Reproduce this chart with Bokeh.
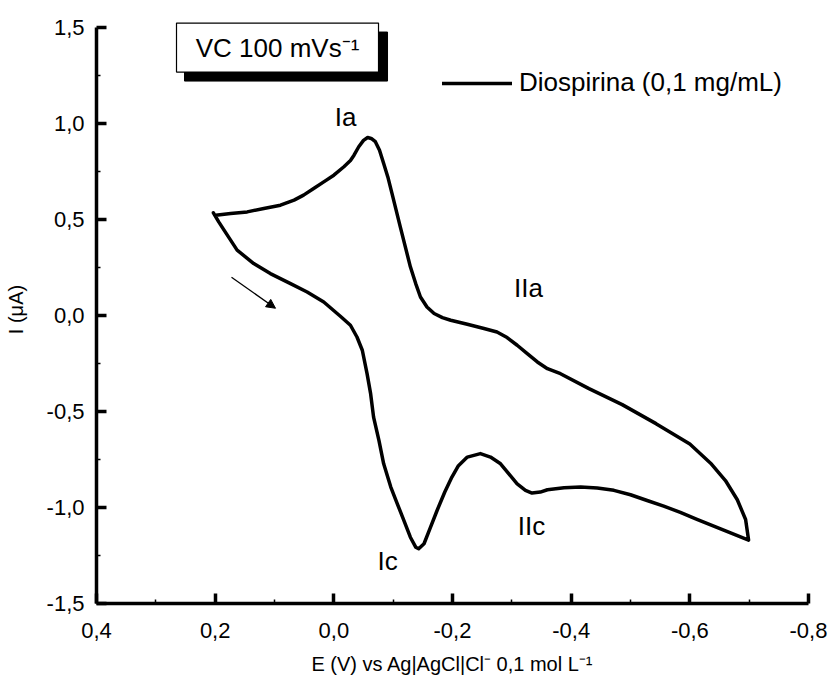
from bokeh.plotting import figure
from bokeh.models import (Range1d, FixedTicker, CustomJSTickFormatter, Label, Legend,
                          LegendItem, Arrow, NormalHead)
from bokeh.embed import file_html
from bokeh.resources import INLINE

# ---------------- data ----------------
# cathodic (forward) scan, 0.2 V -> -0.7 V
E_fwd = [0.203, 0.194, 0.185, 0.174, 0.163, 0.149, 0.135, 0.107, 0.073, 0.045,
         0.017, -0.011, -0.028, -0.039, -0.048, -0.056, -0.062, -0.067, -0.076, -0.084,
         -0.096, -0.107, -0.118, -0.129, -0.138, -0.143, -0.152, -0.163, -0.174, -0.187,
         -0.199, -0.210, -0.225, -0.247, -0.264, -0.281, -0.295, -0.309, -0.323, -0.334,
         -0.348, -0.360, -0.388, -0.416, -0.444, -0.472, -0.500, -0.528, -0.556, -0.584,
         -0.612, -0.655, -0.699]
I_fwd = [0.533, 0.486, 0.443, 0.391, 0.339, 0.304, 0.269, 0.217, 0.165, 0.121,
         0.069, -0.005, -0.052, -0.113, -0.182, -0.304, -0.408, -0.530, -0.651, -0.773,
         -0.894, -0.981, -1.068, -1.155, -1.207, -1.215, -1.189, -1.103, -1.016, -0.920,
         -0.842, -0.783, -0.738, -0.720, -0.738, -0.773, -0.825, -0.877, -0.911, -0.925,
         -0.920, -0.908, -0.898, -0.894, -0.899, -0.911, -0.934, -0.964, -0.993, -1.026,
         -1.062, -1.116, -1.170]
# anodic (return) scan, -0.7 V -> 0.2 V
E_rev = [-0.694, -0.680, -0.660, -0.635, -0.600, -0.543, -0.486, -0.430, -0.382, -0.360,
         -0.343, -0.326, -0.309, -0.292, -0.275, -0.253, -0.225, -0.197, -0.183, -0.169,
         -0.157, -0.146, -0.138, -0.129, -0.112, -0.098, -0.091, -0.084, -0.077, -0.070,
         -0.063, -0.057, -0.050, -0.042, -0.034, -0.028, -0.017, 0.000, 0.017, 0.034,
         0.051, 0.067, 0.090, 0.118, 0.146, 0.174, 0.199]
I_rev = [-1.063, -0.960, -0.860, -0.770, -0.670, -0.564, -0.465, -0.382, -0.304, -0.278,
         -0.243, -0.200, -0.156, -0.116, -0.087, -0.069, -0.047, -0.026, -0.012, 0.009,
         0.043, 0.095, 0.165, 0.252, 0.460, 0.634, 0.720, 0.790, 0.859, 0.903,
         0.920, 0.925, 0.910, 0.877, 0.833, 0.805, 0.773, 0.729, 0.694, 0.660,
         0.625, 0.599, 0.573, 0.556, 0.538, 0.530, 0.521]

x_ticks = [0.4, 0.2, 0.0, -0.2, -0.4, -0.6, -0.8]
x_minor = [0.3, 0.1, -0.1, -0.3, -0.5, -0.7]
y_ticks = [-1.5, -1.0, -0.5, 0.0, 0.5, 1.0, 1.5]
y_minor = [-1.25, -0.75, -0.25, 0.25, 0.75, 1.25]

series_label = "Diospirina (0,1 mg/mL)"
peak_labels = ["Ia", "IIa", "Ic", "IIc"]
box_text = "VC 100 mVs\u207b\u00b9"
x_title = "E (V) vs Ag|AgCl|Cl\u207b 0,1 mol L\u207b\u00b9"
y_title = "I (\u03bcA)"

FONT = "Liberation Sans"

# ---------------- layout helpers (pixel -> data) ----------------
X0_PX, X_SCALE = 96.0, 593.3   # x=0.4 at 96 px, px per V
Y0_PX, Y_SCALE = 315.0, 192.0  # y=0 at 315 px, px per uA


def px2x(px):
    return 0.4 - (px - X0_PX) / X_SCALE


def py2y(py):
    return (Y0_PX - py) / Y_SCALE


p = figure(width=828, height=688, output_backend="svg", toolbar_location=None,
           x_range=Range1d(0.4, -0.8), y_range=Range1d(-1.5, 1.56),
           min_border_left=96, min_border_right=20, min_border_top=15,
           min_border_bottom=85)
p.outline_line_color = None
p.xgrid.visible = False
p.ygrid.visible = False
p.background_fill_color = "white"
p.border_fill_color = "white"

fmt = CustomJSTickFormatter(code="return tick.toFixed(1).replace('.', ',');")

for ax, ticks, minor, title in ((p.xaxis[0], x_ticks, x_minor, x_title),
                                (p.yaxis[0], y_ticks, y_minor, y_title)):
    ax.ticker = FixedTicker(ticks=ticks, minor_ticks=minor)
    ax.formatter = fmt
    ax.axis_line_width = 3.5
    ax.axis_line_color = "black"
    ax.major_tick_line_width = 3.5
    ax.major_tick_in = 10
    ax.major_tick_out = 0
    ax.minor_tick_line_width = 1.5
    ax.minor_tick_in = 4
    ax.minor_tick_out = 0
    ax.major_label_text_font = FONT
    ax.major_label_text_font_size = "22px"
    ax.major_label_text_color = "black"
    ax.axis_label = title
    ax.axis_label_text_font = FONT
    ax.axis_label_text_font_size = "20px"
    ax.axis_label_text_font_style = "normal"
    ax.axis_label_text_color = "black"

p.yaxis[0].bounds = (-1.5, 1.5)
p.xaxis[0].major_label_standoff = 19
p.xaxis[0].axis_label_standoff = 12
p.yaxis[0].major_label_standoff = 12
p.yaxis[0].axis_label_standoff = 17

# ---------------- curve ----------------
E_all = E_fwd + E_rev
I_all = I_fwd + I_rev
r = p.line(E_all, I_all, line_color="black", line_width=3.5, line_join="round",
           line_cap="round")

legend = Legend(items=[LegendItem(label=series_label, renderers=[r])],
                location=(346, 505), border_line_color=None,
                background_fill_alpha=0, padding=0, margin=0, spacing=0,
                glyph_width=70, glyph_height=24, label_height=24,
                label_standoff=7, label_text_font=FONT,
                label_text_font_size="26px", label_text_color="black")
p.add_layout(legend)

# ---------------- boxed scan-rate label with shadow ----------------
bx0, bx1, by0, by1 = 176, 378, 23, 72
p.quad(left=[px2x(bx0 + 8)], right=[px2x(bx1 + 9)], top=[py2y(by0 + 9)],
       bottom=[py2y(by1 + 9)], fill_color="black", line_color="black")
p.quad(left=[px2x(bx0)], right=[px2x(bx1)], top=[py2y(by0)], bottom=[py2y(by1)],
       fill_color="white", line_color="black", line_width=1.2)
p.add_layout(Label(x=px2x((bx0 + bx1) / 2), y=py2y((by0 + by1) / 2), text=box_text,
                   text_align="center", text_baseline="middle", text_font=FONT,
                   text_font_size="26px", text_color="black"))

# ---------------- peak labels ----------------
label_px = [(345, 117), (528, 288), (387, 561), (531, 526)]
for txt, (lx, ly) in zip(peak_labels, label_px):
    p.add_layout(Label(x=px2x(lx), y=py2y(ly), text=txt, text_align="center",
                       text_baseline="middle", text_font=FONT,
                       text_font_size="26px", text_color="black"))

# ---------------- scan direction arrow ----------------
p.add_layout(Arrow(end=NormalHead(size=9, fill_color="black", line_color="black",
                                  line_width=1),
                   x_start=px2x(231), y_start=py2y(277),
                   x_end=px2x(275), y_end=py2y(308),
                   line_width=1.3, line_color="black"))

open("out.html", "w").write(file_html(p, INLINE))
